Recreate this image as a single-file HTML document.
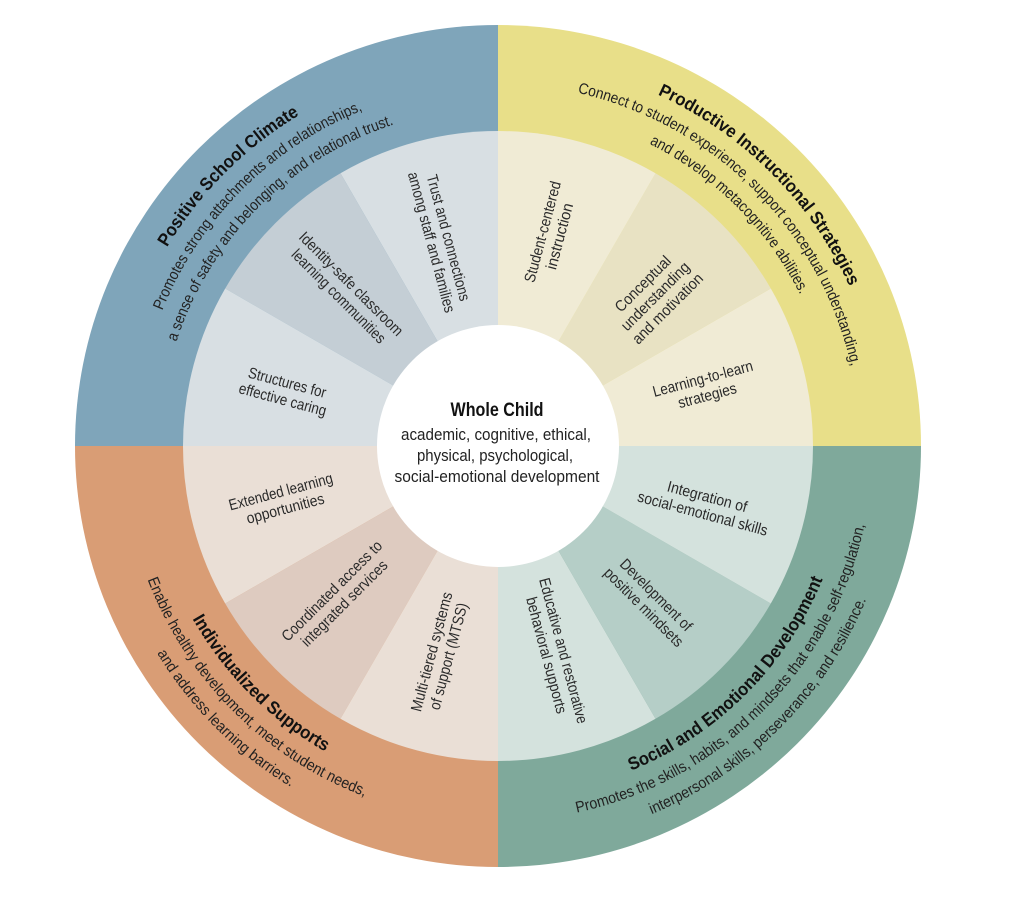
<!DOCTYPE html>
<html>
<head>
<meta charset="utf-8">
<style>
  html,body{margin:0;padding:0;background:#fff;}
  svg{display:block;}
  .lab{font-family:"Liberation Sans Narrow","Liberation Sans",sans-serif;font-size:15.5px;fill:#2a2a2a;}
  .ttl{font-family:"Liberation Sans Narrow","Liberation Sans",sans-serif;font-size:18px;font-weight:bold;fill:#111;}
  .dsc{font-family:"Liberation Sans Narrow","Liberation Sans",sans-serif;font-size:15.5px;fill:#222;}
  .ctr{font-family:"Liberation Sans Narrow","Liberation Sans",sans-serif;font-size:16.5px;fill:#222;}
  .ctrb{font-family:"Liberation Sans Narrow","Liberation Sans",sans-serif;font-size:19px;font-weight:bold;fill:#111;}
</style>
</head>
<body>
<svg width="1024" height="905" viewBox="0 0 1024 905" xmlns="http://www.w3.org/2000/svg">
  <rect width="1024" height="905" fill="#fff"/>
  <defs>
    <path id="tl1" d="M 112 446 A 386 386 0 0 1 498 60"/>
    <path id="tl2" d="M 136 446 A 362 362 0 0 1 498 84"/>
    <path id="tl3" d="M 160 446 A 338 338 0 0 1 498 108"/>
    <path id="tr1" d="M 498 60 A 386 386 0 0 1 884 446"/>
    <path id="tr2" d="M 498 84 A 362 362 0 0 1 860 446"/>
    <path id="tr3" d="M 498 108 A 338 338 0 0 1 836 446"/>
    <path id="bl1" d="M 147 446 A 351 351 0 0 0 498 797"/>
    <path id="bl2" d="M 123 446 A 375 375 0 0 0 498 821"/>
    <path id="bl3" d="M 99 446 A 399 399 0 0 0 498 845"/>
    <path id="br1" d="M 498 797 A 351 351 0 0 0 849 446"/>
    <path id="br2" d="M 498 821 A 375 375 0 0 0 873 446"/>
    <path id="br3" d="M 498 845 A 399 399 0 0 0 897 446"/>
  </defs>

  <!-- outer quadrants -->
  <path d="M 498 446 L 921 446 A 423 421 0 0 0 498 25 Z" fill="#e8df89"/>
  <path d="M 498 446 L 498 25 A 423 421 0 0 0 75 446 Z" fill="#7fa5ba"/>
  <path d="M 498 446 L 75 446 A 423 421 0 0 0 498 867 Z" fill="#d99d75"/>
  <path d="M 498 446 L 498 867 A 423 421 0 0 0 921 446 Z" fill="#7fa99b"/>

  <!-- inner segments -->
  <path d="M 498 446 L 813 446 A 315 315 0 0 0 770.8 288.5 Z" fill="#f0ebd5"/>
  <path d="M 498 446 L 770.8 288.5 A 315 315 0 0 0 655.5 173.2 Z" fill="#e8e2c3"/>
  <path d="M 498 446 L 655.5 173.2 A 315 315 0 0 0 498 131 Z" fill="#f0ebd5"/>
  <path d="M 498 446 L 498 131 A 315 315 0 0 0 340.5 173.2 Z" fill="#d8dfe3"/>
  <path d="M 498 446 L 340.5 173.2 A 315 315 0 0 0 225.2 288.5 Z" fill="#c4ced5"/>
  <path d="M 498 446 L 225.2 288.5 A 315 315 0 0 0 183 446 Z" fill="#d8dfe3"/>
  <path d="M 498 446 L 183 446 A 315 315 0 0 0 225.2 603.5 Z" fill="#eadfd6"/>
  <path d="M 498 446 L 225.2 603.5 A 315 315 0 0 0 340.5 718.8 Z" fill="#decbc0"/>
  <path d="M 498 446 L 340.5 718.8 A 315 315 0 0 0 498 761 Z" fill="#eadfd6"/>
  <path d="M 498 446 L 498 761 A 315 315 0 0 0 655.5 718.8 Z" fill="#d4e2dd"/>
  <path d="M 498 446 L 655.5 718.8 A 315 315 0 0 0 770.8 603.5 Z" fill="#b5cec7"/>
  <path d="M 498 446 L 770.8 603.5 A 315 315 0 0 0 813 446 Z" fill="#d4e2dd"/>

  <!-- center -->
  <circle cx="498" cy="446" r="121" fill="#fff"/>
  <text class="ctrb" x="497" y="416" text-anchor="middle" textLength="93" lengthAdjust="spacingAndGlyphs">Whole Child</text>
  <text class="ctr" x="496" y="440" text-anchor="middle" textLength="190" lengthAdjust="spacingAndGlyphs">academic, cognitive, ethical,</text>
  <text class="ctr" x="495" y="461" text-anchor="middle" textLength="156" lengthAdjust="spacingAndGlyphs">physical, psychological,</text>
  <text class="ctr" x="497" y="482" text-anchor="middle" textLength="205" lengthAdjust="spacingAndGlyphs">social-emotional development</text>

  <!-- inner labels -->
  <g class="lab" text-anchor="middle">
    <text transform="translate(285,391) rotate(15)"><tspan x="0" y="-3.5" textLength="80" lengthAdjust="spacingAndGlyphs">Structures for</tspan><tspan x="0" y="14" textLength="90" lengthAdjust="spacingAndGlyphs">effective caring</tspan></text>
    <text transform="translate(345,290) rotate(45)"><tspan x="0" y="-3.5" textLength="140" lengthAdjust="spacingAndGlyphs">Identity-safe classroom</tspan><tspan x="0" y="14" textLength="126" lengthAdjust="spacingAndGlyphs">learning communities</tspan></text>
    <text transform="translate(440,240) rotate(75)"><tspan x="0" y="-3.5" textLength="130" lengthAdjust="spacingAndGlyphs">Trust and connections</tspan><tspan x="0" y="14" textLength="145" lengthAdjust="spacingAndGlyphs">among staff and families</tspan></text>

    <text transform="translate(551,234) rotate(-75)"><tspan x="0" y="-3.5" textLength="104" lengthAdjust="spacingAndGlyphs">Student-centered</tspan><tspan x="0" y="14" textLength="68" lengthAdjust="spacingAndGlyphs">instruction</tspan></text>
    <text transform="translate(655,296) rotate(-45)"><tspan x="0" y="-12" textLength="72" lengthAdjust="spacingAndGlyphs">Conceptual</tspan><tspan x="0" y="5.5" textLength="90" lengthAdjust="spacingAndGlyphs">understanding</tspan><tspan x="0" y="23" textLength="93" lengthAdjust="spacingAndGlyphs">and motivation</tspan></text>
    <text transform="translate(705,387) rotate(-15)"><tspan x="0" y="-3.5" textLength="103" lengthAdjust="spacingAndGlyphs">Learning-to-learn</tspan><tspan x="0" y="14" textLength="60" lengthAdjust="spacingAndGlyphs">strategies</tspan></text>

    <text transform="translate(705,505) rotate(15)"><tspan x="0" y="-3.5" textLength="82" lengthAdjust="spacingAndGlyphs">Integration of</tspan><tspan x="0" y="14" textLength="134" lengthAdjust="spacingAndGlyphs">social-emotional skills</tspan></text>
    <text transform="translate(650,601) rotate(45)"><tspan x="0" y="-3.5" textLength="95" lengthAdjust="spacingAndGlyphs">Development of</tspan><tspan x="0" y="14" textLength="105" lengthAdjust="spacingAndGlyphs">positive mindsets</tspan></text>
    <text transform="translate(555,653) rotate(75)"><tspan x="0" y="-3.5" textLength="150" lengthAdjust="spacingAndGlyphs">Educative and restorative</tspan><tspan x="0" y="14" textLength="120" lengthAdjust="spacingAndGlyphs">behavioral supports</tspan></text>

    <text transform="translate(283,500) rotate(-15)"><tspan x="0" y="-3.5" textLength="107" lengthAdjust="spacingAndGlyphs">Extended learning</tspan><tspan x="0" y="14" textLength="80" lengthAdjust="spacingAndGlyphs">opportunities</tspan></text>
    <text transform="translate(338,597) rotate(-45)"><tspan x="0" y="-3.5" textLength="135" lengthAdjust="spacingAndGlyphs">Coordinated access to</tspan><tspan x="0" y="14" textLength="115" lengthAdjust="spacingAndGlyphs">integrated services</tspan></text>
    <text transform="translate(440,654) rotate(-75)"><tspan x="0" y="-3.5" textLength="123" lengthAdjust="spacingAndGlyphs">Multi-tiered systems</tspan><tspan x="0" y="14" textLength="110" lengthAdjust="spacingAndGlyphs">of support (MTSS)</tspan></text>
  </g>

  <!-- outer band curved text -->
  <text class="ttl"><textPath href="#tl1" startOffset="50%" text-anchor="middle" textLength="189" lengthAdjust="spacingAndGlyphs">Positive School Climate</textPath></text>
  <text class="dsc"><textPath href="#tl2" startOffset="50%" text-anchor="middle" textLength="291" lengthAdjust="spacingAndGlyphs">Promotes strong attachments and relationships,</textPath></text>
  <text class="dsc"><textPath href="#tl3" startOffset="50%" text-anchor="middle" textLength="319" lengthAdjust="spacingAndGlyphs">a sense of safety and belonging, and relational trust.</textPath></text>

  <text class="ttl"><textPath href="#tr1" startOffset="50%" text-anchor="middle" textLength="277" lengthAdjust="spacingAndGlyphs">Productive Instructional Strategies</textPath></text>
  <text class="dsc"><textPath href="#tr2" startOffset="50%" text-anchor="middle" textLength="408" lengthAdjust="spacingAndGlyphs">Connect to student experience, support conceptual understanding,</textPath></text>
  <text class="dsc"><textPath href="#tr3" startOffset="50%" text-anchor="middle" textLength="217" lengthAdjust="spacingAndGlyphs">and develop metacognitive abilities.</textPath></text>

  <text class="ttl"><textPath href="#bl1" startOffset="50%" text-anchor="middle" textLength="190" lengthAdjust="spacingAndGlyphs">Individualized Supports</textPath></text>
  <text class="dsc"><textPath href="#bl2" startOffset="50%" text-anchor="middle" textLength="316" lengthAdjust="spacingAndGlyphs">Enable healthy development, meet student needs,</textPath></text>
  <text class="dsc"><textPath href="#bl3" startOffset="50%" text-anchor="middle" textLength="191" lengthAdjust="spacingAndGlyphs">and address learning barriers.</textPath></text>

  <text class="ttl"><textPath href="#br1" startOffset="50%" text-anchor="middle" textLength="278" lengthAdjust="spacingAndGlyphs">Social and Emotional Development</textPath></text>
  <text class="dsc"><textPath href="#br2" startOffset="50%" text-anchor="middle" textLength="430" lengthAdjust="spacingAndGlyphs">Promotes the skills, habits, and mindsets that enable self-regulation,</textPath></text>
  <text class="dsc"><textPath href="#br3" startOffset="50%" text-anchor="middle" textLength="311" lengthAdjust="spacingAndGlyphs">interpersonal skills, perseverance, and resilience.</textPath></text>
</svg>
</body>
</html>
